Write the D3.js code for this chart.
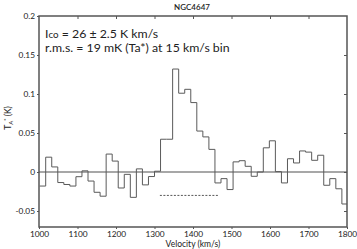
<!DOCTYPE html>
<html><head><meta charset="utf-8">
<script src="https://cdn.jsdelivr.net/npm/d3@7/dist/d3.min.js"></script>
<style>
html,body{margin:0;padding:0;background:#fff;}
svg{display:block;}
text{font-family:Lato, "Open Sans", sans-serif;fill:#222;}
</style></head>
<body><svg id="c" width="357" height="249"></svg>
<script>
// ---- data ----
const title = "NGC4647";
const channelWidth = 15.7; // km/s
const binStart = [1001.7,1017.4,1033.1,1048.8,1064.5,1080.2,1095.9,1111.6,1127.3,1143.0,
  1158.7,1174.4,1190.1,1205.8,1221.5,1237.2,1252.9,1268.6,1284.3,1300.0,
  1315.7,1331.4,1347.1,1362.8,1378.5,1394.2,1409.9,1425.6,1441.3,1457.0,
  1472.7,1488.4,1504.1,1519.8,1535.5,1551.2,1566.9,1582.6,1598.3,1614.0,
  1629.7,1645.4,1661.1,1676.8,1692.5,1708.2,1723.9,1739.6,1755.3,1771.0,1786.7];
const ta = [-0.018,0.019,0.0065,-0.0135,-0.016,-0.018,-0.006,0.0015,-0.0116,-0.026,
  -0.031,0.023,0.014,-0.0205,-0.003,-0.0325,0.004,-0.0165,-0.0058,0.001,
  0.042,0.042,0.132,0.101,0.106,0.089,0.0525,0.045,0.029,-0.014,
  -0.0085,-0.0225,0.013,0.0145,0.0073,-0.0055,0.0,0.031,0.040,0.0005,
  -0.014,0.017,0.0116,0.027,0.0255,0.015,0.0215,-0.017,-0.0085,-0.0215,-0.041];
const windowRange = [1314, 1468];
const windowLevel = -0.030;
const xTicks = [1000,1100,1200,1300,1400,1500,1600,1700,1800];
const yTicks = [-0.05,0,0.05,0.1,0.15,0.2];
const yTickLabels = ["-0.05","0","0.05","0.1","0.15","0.2"];
const line1 = ["I","co"," = 26 \u00B1 2.5 K km/s"];
const line2 = "r.m.s. = 19 mK (Ta*) at 15 km/s bin";

// ---- chart ----
const svg = d3.select("#c");
const L = 39, R = 347, T = 16, B = 227;
const x = d3.scaleLinear().domain([1000,1800]).range([L,R]);
const y = d3.scaleLinear().domain([-0.0705,0.2]).range([B,T]);
const axisCol = "#555";

svg.append("defs").append("clipPath").attr("id","clip")
  .append("rect").attr("x",L).attr("y",T).attr("width",R-L).attr("height",B-T);

// zero line
svg.append("line").attr("x1",x(1000)).attr("x2",x(1800)).attr("y1",y(0)).attr("y2",y(0))
  .attr("stroke","#8a8a8a").attr("stroke-width",1.3);

// spectrum
const pts = binStart.map((v,i)=>[v,ta[i]]);
pts.push([binStart[binStart.length-1]+channelWidth, ta[ta.length-1]]);
svg.append("path").attr("clip-path","url(#clip)")
  .attr("d", d3.line().x(d=>x(d[0])).y(d=>y(d[1])).curve(d3.curveStepAfter)(pts))
  .attr("fill","none").attr("stroke","#5a5a5a").attr("stroke-width",1);

// dashed window
svg.append("line").attr("x1",x(windowRange[0])).attr("x2",x(windowRange[1]))
  .attr("y1",y(windowLevel)).attr("y2",y(windowLevel))
  .attr("stroke","#444").attr("stroke-width",0.9).attr("stroke-dasharray","2,1.5");

// axes
const fs = 8.3;
const gB = svg.append("g").attr("transform",`translate(0,${B})`)
  .call(d3.axisBottom(x).tickValues(xTicks).tickSize(2).tickPadding(2).tickFormat(d3.format("d")));
const gT = svg.append("g").attr("transform",`translate(0,${T})`)
  .call(d3.axisBottom(x).tickValues(xTicks.slice(1,-1)).tickSize(3).tickFormat(""));
const gL = svg.append("g").attr("transform",`translate(${L},0)`)
  .call(d3.axisLeft(y).tickValues(yTicks).tickSize(2).tickPadding(2).tickFormat((d,i)=>yTickLabels[i]));
const gR = svg.append("g").attr("transform",`translate(${R},0)`)
  .call(d3.axisLeft(y).tickValues(yTicks.slice(0,-1)).tickSize(3).tickFormat(""));
[gB,gT,gL,gR].forEach(g=>{
  g.select(".domain").remove();
  g.selectAll(".tick line").attr("stroke",axisCol).attr("stroke-width",1);
  g.selectAll("text").attr("font-size",fs).attr("font-family","Lato, sans-serif").attr("fill","#222");
});
// frame
svg.append("rect").attr("x",L).attr("y",T).attr("width",R-L).attr("height",B-T)
  .attr("fill","none").attr("stroke",axisCol).attr("stroke-width",1.5);

// title
svg.append("text").attr("x",192).attr("y",10).attr("text-anchor","middle")
  .attr("font-size",8).attr("font-weight","600").text(title);

// x label
svg.append("text").attr("x",(L+R)/2).attr("y",247).attr("text-anchor","middle")
  .attr("font-size",8.5).text("Velocity (km/s)");

// y label
const yl = svg.append("text").attr("transform","translate(11,118) rotate(-90)")
  .attr("text-anchor","middle").attr("font-size",8.5);
yl.append("tspan").text("T");
yl.append("tspan").attr("font-size",6).attr("dy",2).text("A");
yl.append("tspan").attr("font-size",6).attr("dy",-5).text("*");
yl.append("tspan").attr("dy",3).text(" (K)");

// annotations
const a1 = svg.append("text").attr("x",45).attr("y",38).attr("font-size",12.3);
a1.append("tspan").text(line1[0]);
a1.append("tspan").attr("font-size",9.8).text(line1[1]);
a1.append("tspan").text(line1[2]);
svg.append("text").attr("x",45).attr("y",52).attr("font-size",12.3).text(line2);
</script></body></html>
